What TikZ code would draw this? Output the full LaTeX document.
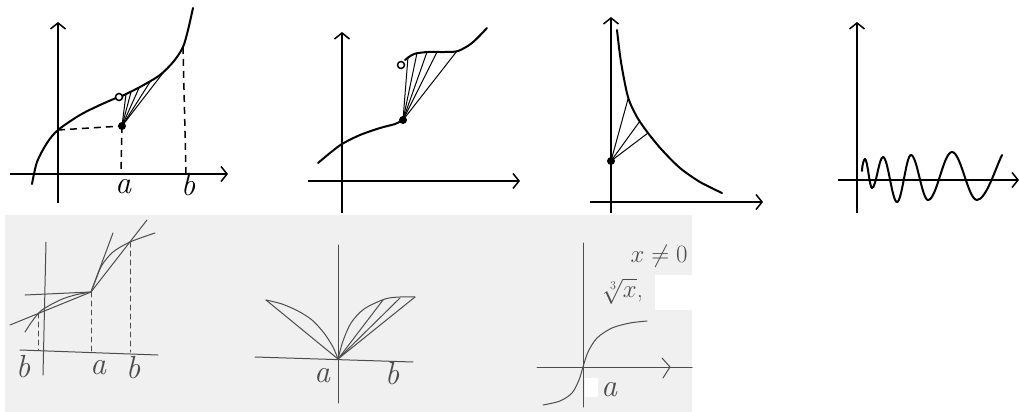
\documentclass[tikz,border=0pt]{standalone}
\usetikzlibrary{arrows.meta}
\definecolor{paper}{HTML}{F0F0F0}
\definecolor{pencilgray}{HTML}{4C4C4C}
\begin{document}
\begin{tikzpicture}[x=1pt,y=-1pt,
  ink/.style={line width=2pt, line cap=round, line join=round},
  thin ink/.style={line width=1pt, line cap=round},
  axis/.style={line width=1.5pt},
  axisarrow/.style={axis, -{Straight Barb[length=6pt,width=15pt,line width=1.5pt]}},
  dashline/.style={line width=1.5pt, dash pattern=on 7pt off 5pt},
  pencil/.style={draw=pencilgray, line width=1pt, line cap=round, line join=round},
  pdash/.style={pencil, dash pattern=on 5pt off 4pt},
  lbl/.style={inner sep=0pt, font=\fontsize{32}{32}\selectfont\itshape},
  plbl/.style={inner sep=0pt, text=pencilgray, font=\fontsize{32}{32}\selectfont\itshape},
  dot/.style={fill=black},
  hole/.style={draw=black, fill=white, line width=1.5pt}]
\useasboundingbox (0,0) rectangle (1020,412);
\fill[paper] (5,215) rectangle (692,412);

% ---------- Figure 1 ----------
\coordinate (o1x0) at (10,174);  \coordinate (o1x1) at (228,174);
\coordinate (o1y0) at (58,203);  \coordinate (o1y1) at (58,22);
\draw[axisarrow] (o1x0) -- (o1x1);
\draw[axisarrow] (o1y0) -- (o1y1);
\coordinate (f1a) at (122,126);
\coordinate (f1o) at (119,97);
\coordinate (f1b) at (183,47);
\coordinate (f1y) at (58,130);
\coordinate (f1ax) at (121,174);
\coordinate (f1bx) at (186,174);
\draw[dashline] (f1y) -- (f1a);
\draw[dashline] (f1a) -- (f1ax);
\draw[dashline] (f1b) -- (f1bx);
\draw[ink] plot[smooth] coordinates {(32,184) (37,162) (47,143) (58,130) (80,115) (100,105) (116,98)};
\draw[ink] plot[smooth] coordinates {(122,96) (140,87) (160,75) (174,61) (183,47) (188,30) (193,8)};
\foreach \p in {(126,94),(131,92),(139,88),(150,82),(163,73)} \draw[thin ink] (f1a) -- \p;
\draw[hole] (f1o) circle (3.5pt);
\fill[dot] (f1a) circle (4pt);
\node[lbl] (la1) at (123,187) {a};
\node[lbl] (lb1) at (188,185) {b};

% ---------- Figure 2 ----------
\coordinate (o2x0) at (308,181);  \coordinate (o2x1) at (520,181);
\coordinate (o2y0) at (342,213);  \coordinate (o2y1) at (342,32);
\draw[axisarrow] (o2x0) -- (o2x1);
\draw[axisarrow] (o2y0) -- (o2y1);
\coordinate (f2a) at (403,120);
\coordinate (f2o) at (401,65);
\draw[ink] plot[smooth] coordinates {(318,163) (330,153) (342,144) (360,135) (380,128) (395,124) (403,120)};
\draw[ink] plot[smooth] coordinates {(405,60) (414,54) (428,52) (445,52) (458,51) (472,43) (487,28)};
\foreach \p in {(408,57),(417,53),(427,52),(437,52),(457,51)} \draw[thin ink] (f2a) -- \p;
\draw[hole] (f2o) circle (3.5pt);
\fill[dot] (f2a) circle (4pt);

% ---------- Figure 3 ----------
\coordinate (o3x0) at (590,202);  \coordinate (o3x1) at (763,202);
\coordinate (o3y0) at (611,213);  \coordinate (o3y1) at (611,17);
\draw[axisarrow] (o3x0) -- (o3x1);
\draw[axisarrow] (o3y0) -- (o3y1);
\coordinate (f3a) at (611,161);
\draw[ink] plot[smooth] coordinates {(617,30) (621,62) (628,97) (637,117) (648,133) (662,150) (680,168) (700,182) (722,193)};
\foreach \p in {(628,99),(640,121),(648,133)} \draw[thin ink] (f3a) -- \p;
\fill[dot] (f3a) circle (4pt);

% ---------- Figure 4 ----------
\coordinate (o4x0) at (838,180);  \coordinate (o4x1) at (1019,180);
\coordinate (o4y0) at (857,213);  \coordinate (o4y1) at (857,22);
\draw[axisarrow] (o4x0) -- (o4x1);
\draw[axisarrow] (o4y0) -- (o4y1);
\draw[ink] (862,171) .. controls (862,165) and (864,159) .. (865,159)
  .. controls (867.5,159) and (869.5,188) .. (872,188)
  .. controls (876,188) and (879,157) .. (883,157)
  .. controls (888,157) and (892,202) .. (897,202)
  .. controls (902,202) and (906,155) .. (911,155)
  .. controls (917,155) and (922,200) .. (928,200)
  .. controls (936.7,200) and (943.3,152) .. (952,152)
  .. controls (961,152) and (968,200) .. (977,200)
  .. controls (986,200) and (996,167) .. (1002,155);

% ---------- Figure 5 ----------
\coordinate (o5x0) at (20,350);  \coordinate (o5x1) at (158,355);
\coordinate (o5y0) at (46,242);  \coordinate (o5y1) at (43,375);
\draw[pencil] (o5x0) -- (o5x1);
\draw[pencil] (o5y0) -- (o5y1);
\coordinate (k5) at (91,292);
\coordinate (b5l) at (38,313);
\coordinate (b5r) at (130,242);
\draw[pencil] plot[smooth] coordinates {(25,332) (33,320) (42,310) (60,300) (75,295) (91,292)};
\draw[pencil] plot[smooth] coordinates {(91,292) (96,279) (102,265) (113,252) (130,242) (155,233)};
\draw[pencil] (25,295) -- (k5);
\draw[pencil] (10,325) -- (k5);
\draw[pencil] (k5) -- (113,233);
\draw[pencil] (k5) -- (147,220);
\draw[pdash] (b5l) -- (38,350);
\draw[pdash] (k5) -- (91,351);
\draw[pdash] (b5r) -- (130,352);
\node[plbl] (lb5l) at (23,367) {b};
\node[plbl] (la5) at (98,368) {a};
\node[plbl] (lb5r) at (133,368) {b};

% ---------- Figure 6 ----------
\coordinate (o6x0) at (255,357);  \coordinate (o6x1) at (413,362);
\coordinate (o6y0) at (338,245);  \coordinate (o6y1) at (338,403);
\draw[pencil] (o6x0) -- (o6x1);
\draw[pencil] (o6y0) -- (o6y1);
\coordinate (O6) at (338,359);
\coordinate (L6) at (266,300);
\draw[pencil] plot[smooth] coordinates {(338,359) (333,347) (324,333) (312,320) (298,311) (282,304) (266,300)};
\draw[pencil] (L6) -- (O6);
\draw[pencil] plot[smooth] coordinates {(338,359) (343,341) (351,323) (364,309) (385,299) (400,297) (415,297)};
\foreach \p in {(383,300),(400,298),(415,297)} \draw[pencil] (O6) -- \p;
\node[plbl] (la6) at (322,376) {a};
\node[plbl] (lb6) at (392,374) {b};

% ---------- Figure 7 ----------
\fill[white] (585,378) rectangle (598,397);
\fill[white] (655,275) rectangle (692,310);
\coordinate (o7x0) at (537,367);  \coordinate (o7x1) at (692,367);
\coordinate (o7y0) at (583,243);  \coordinate (o7y1) at (583,407);
\draw[pencil] (o7x0) -- (o7x1);
\draw[pencil] (662,358) -- (670,367) -- (663,378);
\draw[pencil] (o7y0) -- (o7y1);
\draw[pencil] plot[smooth] coordinates {(543,405) (560,401) (572,393) (579,380) (583,367) (588,352) (597,338) (612,328) (630,323) (647,321)};
\node[plbl] (la7) at (609,390) {a};
\node[plbl, font=\fontsize{24}{24}\selectfont] (cond7) at (659,256) {$x\neq0$};
\node[plbl, font=\fontsize{24}{24}\selectfont] (root7) at (623,291) {$\sqrt[3]{x}$,};
\end{tikzpicture}
\end{document}
